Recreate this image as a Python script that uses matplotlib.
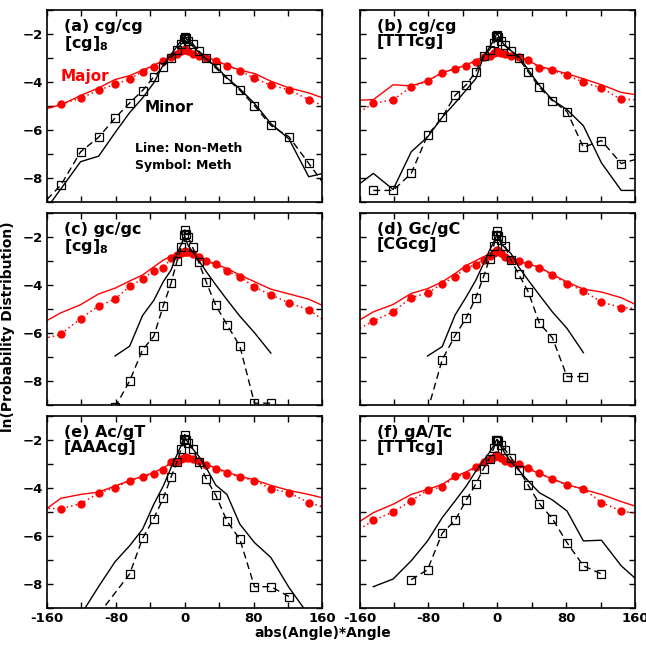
import numpy as np
import matplotlib
matplotlib.use('Agg')
import matplotlib.pyplot as plt
from matplotlib.ticker import MultipleLocator

plt.rcParams['font.family'] = ['DejaVu Sans']
plt.rcParams['font.weight'] = 'bold'
plt.rcParams['mathtext.default'] = 'bf'

nan = np.nan
# angle bins -13..13, x axis is abs(Angle)*Angle
angles = np.arange(-13, 14)

# panel (a) cg/cg [cg]8
a_maj_meth = [-5.17, -4.93, -4.68, -4.35, -4.10, -3.88, -3.57, -3.36, -3.14, -2.96, -2.83, -2.70, -2.65, -2.62,
              -2.65, -2.72, -2.83, -2.93, -3.00, -3.11, -3.35, -3.53, -3.85, -4.14, -4.33, -4.74, -5.12]
a_maj_non = [-5.20, -4.96, -4.57, -4.25, -3.90, -3.74, -3.51, -3.31, -3.10, -2.92, -2.78, -2.66, -2.60, -2.58,
             -2.60, -2.66, -2.76, -2.86, -2.96, -3.11, -3.31, -3.51, -3.65, -3.97, -4.25, -4.46, -4.78]
a_min_meth = [-9.24, -8.31, -6.92, -6.31, -5.51, -4.88, -4.36, -3.79, -3.36, -3.00, -2.68, -2.40, -2.20, -2.14,
              -2.18, -2.28, -2.40, -2.70, -3.02, -3.42, -3.86, -4.35, -4.99, -5.82, -6.29, -7.40, -8.62]
a_min_non = [-9.70, -8.47, -7.33, -7.10, -6.12, -5.28, -4.67, -4.04, -3.29, -2.86, -2.51, -2.26, -2.13, -2.07,
             -2.15, -2.30, -2.50, -2.75, -3.05, -3.35, -3.83, -4.29, -4.90, -5.74, -6.38, -7.96, -7.75]

# panel (b) cg/cg [TTTcg]
b_maj_meth = [-5.46, -4.90, -4.74, -4.22, -3.97, -3.62, -3.45, -3.32, -3.15, -2.97, -2.90, -2.80, -2.74, -2.72,
              -2.74, -2.78, -2.84, -2.90, -2.97, -3.09, -3.40, -3.52, -3.73, -4.01, -4.26, -4.73, -4.75]
b_maj_non = [-4.78, -4.74, -4.12, -4.17, -3.95, -3.62, -3.45, -3.30, -3.10, -2.95, -2.85, -2.76, -2.70, -2.68,
             -2.70, -2.75, -2.83, -2.90, -2.94, -3.12, -3.35, -3.49, -3.66, -3.87, -4.12, -4.44, -4.58]
b_min_meth = [nan, -8.53, -8.53, -7.82, -6.23, -5.48, -4.56, -4.12, -3.58, -2.91, -2.66, -2.39, -2.10, -2.05,
              -2.12, -2.30, -2.46, -2.70, -3.02, -3.59, -4.22, -4.79, -5.24, -6.73, -6.45, -7.41, -7.15]
b_min_non = [-8.50, -7.82, -8.49, -6.92, -6.30, -5.48, -4.88, -4.33, -3.87, -2.95, -2.55, -2.25, -2.02, -1.97,
             -2.05, -2.25, -2.50, -2.70, -2.94, -3.50, -4.15, -4.75, -5.16, -5.83, -7.38, -8.53, -8.53]

# panel (c) gc/gc [cg]8
c_maj_meth = [-6.28, -6.06, -5.40, -4.87, -4.59, -4.05, -3.75, -3.40, -3.27, -2.89, -2.76, -2.66, -2.60, -2.59,
              -2.60, -2.64, -2.72, -2.83, -2.99, -3.13, -3.42, -3.65, -4.09, -4.41, -4.74, -5.03, -5.67]
c_maj_non = [-5.66, -5.16, -4.82, -4.37, -4.13, -3.83, -3.58, -3.24, -2.96, -2.80, -2.68, -2.60, -2.55, -2.54,
             -2.56, -2.62, -2.72, -2.85, -2.99, -3.13, -3.31, -3.58, -3.86, -4.17, -4.37, -4.59, -5.00]
c_min_meth = [nan, nan, nan, nan, -9.10, -8.00, -6.70, -6.14, -4.87, -3.93, -3.00, -2.41, -1.93, -1.70,
              -1.85, -2.00, -2.41, -3.03, -3.88, -4.85, -5.65, -6.55, -8.93, -8.93, nan, nan, nan]
c_min_non = [nan, nan, nan, nan, -6.96, -6.55, -5.27, -4.64, -3.86, -3.38, -2.69, -2.30, -2.05, -1.95,
             -2.10, -2.35, -2.60, -2.96, -3.44, -3.99, -4.61, -5.30, -5.99, -6.84, nan, nan, nan]

# panel (d) Gc/gC [CGcg]
d_maj_meth = [-5.99, -5.50, -5.12, -4.52, -4.34, -3.94, -3.66, -3.27, -3.15, -2.94, -2.80, -2.65, -2.57, -2.55,
              -2.58, -2.68, -2.82, -2.97, -3.00, -3.12, -3.27, -3.59, -3.94, -4.24, -4.71, -4.94, -5.00]
d_maj_non = [-5.65, -5.12, -4.81, -4.35, -4.15, -3.87, -3.52, -3.18, -2.98, -2.82, -2.70, -2.60, -2.55, -2.53,
             -2.56, -2.63, -2.75, -2.90, -3.00, -3.12, -3.25, -3.56, -3.87, -4.17, -4.29, -4.53, -4.95]
d_min_meth = [nan, nan, nan, nan, -9.25, -7.12, -6.11, -5.37, -4.52, -3.66, -2.90, -2.35, -1.93, -1.75,
              -1.95, -2.10, -2.37, -2.97, -3.55, -4.29, -5.60, -6.20, -7.82, -7.82, nan, nan, nan]
d_min_non = [nan, nan, nan, nan, -6.96, -6.57, -5.25, -4.49, -3.80, -3.11, -2.55, -2.20, -1.95, -1.86,
             -2.00, -2.25, -2.45, -2.69, -3.25, -3.80, -4.42, -5.12, -5.81, -6.82, nan, nan, nan]

# panel (e) Ac/gT [AAAcg]
e_maj_meth = [-4.84, -4.85, -4.65, -4.20, -3.98, -3.68, -3.52, -3.40, -3.22, -2.91, -2.90, -2.80, -2.72, -2.68,
              -2.70, -2.75, -2.80, -2.87, -3.04, -3.18, -3.36, -3.54, -3.68, -4.02, -4.19, -4.60, -4.88]
e_maj_non = [-5.08, -4.42, -4.26, -4.16, -3.91, -3.68, -3.50, -3.35, -3.15, -2.95, -2.85, -2.75, -2.70, -2.68,
             -2.70, -2.74, -2.82, -2.90, -3.02, -3.15, -3.33, -3.50, -3.65, -3.88, -4.09, -4.26, -4.48]
e_min_meth = [nan, nan, nan, -9.26, nan, -7.58, -6.09, -5.27, -4.42, -3.54, -2.90, -2.35, -1.94, -1.76,
              -1.97, -2.10, -2.35, -2.90, -3.61, -4.29, -5.37, -6.13, -8.11, -8.11, -8.52, nan, nan]
e_min_non = [nan, nan, -9.30, -8.10, -7.07, -6.40, -5.71, -4.67, -3.91, -3.15, -2.60, -2.20, -1.90, -1.83,
             -1.95, -2.10, -2.35, -2.65, -3.15, -3.87, -4.26, -5.50, -6.27, -6.89, -8.14, -9.30, nan]

# panel (f) gA/Tc [TTTcg]
f_maj_meth = [-5.92, -5.34, -4.99, -4.52, -4.09, -3.94, -3.51, -3.43, -3.12, -2.90, -2.80, -2.70, -2.63, -2.60,
              -2.64, -2.75, -2.88, -2.94, -3.01, -3.15, -3.36, -3.63, -3.87, -4.02, -4.60, -4.95, -5.10]
f_maj_non = [-5.60, -5.02, -4.67, -4.26, -4.05, -3.84, -3.50, -3.32, -3.10, -2.88, -2.75, -2.65, -2.58, -2.56,
             -2.60, -2.68, -2.80, -2.92, -3.05, -3.20, -3.38, -3.62, -3.84, -4.05, -4.26, -4.56, -4.85]
f_min_meth = [nan, nan, nan, -7.82, -7.40, -5.88, -5.34, -4.49, -3.83, -3.18, -2.76, -2.32, -2.00, -1.97,
              -2.05, -2.20, -2.39, -2.73, -3.22, -3.88, -4.65, -5.27, -6.27, -7.24, -7.58, nan, nan]
f_min_non = [nan, -8.11, -7.79, -7.03, -6.20, -5.23, -4.53, -3.91, -3.29, -2.85, -2.50, -2.20, -2.00, -1.97,
             -2.05, -2.25, -2.55, -2.90, -3.25, -3.70, -4.19, -4.49, -4.95, -6.20, -6.17, -7.24, -8.04]

titles = ['(a) cg/cg', '(b) cg/cg', '(c) gc/gc', '(d) Gc/gC', '(e) Ac/gT', '(f) gA/Tc']
contexts = [r'[cg]$_{8}$', '[TTTcg]', r'[cg]$_{8}$', '[CGcg]', '[AAAcg]', '[TTTcg]']
panels = [(a_maj_meth, a_maj_non, a_min_meth, a_min_non),
          (b_maj_meth, b_maj_non, b_min_meth, b_min_non),
          (c_maj_meth, c_maj_non, c_min_meth, c_min_non),
          (d_maj_meth, d_maj_non, d_min_meth, d_min_non),
          (e_maj_meth, e_maj_non, e_min_meth, e_min_non),
          (f_maj_meth, f_maj_non, f_min_meth, f_min_non)]

x = np.abs(angles) * angles

def series(vals):
    v = np.array(vals, dtype=float)
    ok = np.isfinite(v)
    return x[ok], v[ok]

fig, axes = plt.subplots(3, 2, figsize=(6.46, 6.5), dpi=100)
plt.subplots_adjust(left=0.0728, right=0.983, top=0.9846, bottom=0.0646, wspace=0.1345, hspace=0.06)

for i, ax in enumerate(axes.flat):
    maj_meth, maj_non, min_meth, min_non = panels[i]
    xx, yy = series(maj_non)
    ax.plot(xx, yy, color='red', lw=1.0)
    xx, yy = series(maj_meth)
    ax.plot(xx, yy, color='red', lw=1.1, ls=(0, (1, 2)), marker='o', ms=5, mec='red', mfc='red')
    xx, yy = series(min_non)
    ax.plot(xx, yy, color='black', lw=1.0)
    xx, yy = series(min_meth)
    ax.plot(xx, yy, color='black', lw=1.0, ls=(0, (5, 3)), marker='s', ms=6, mfc='none', mec='black', mew=0.9)

    ax.set_xlim(-160, 160)
    ax.set_ylim(-9, -1)
    ax.xaxis.set_major_locator(MultipleLocator(80))
    ax.xaxis.set_minor_locator(MultipleLocator(40))
    ax.yaxis.set_major_locator(MultipleLocator(2))
    ax.yaxis.set_minor_locator(MultipleLocator(1))
    ax.set_yticks([-8, -6, -4, -2])
    ax.tick_params(which='both', direction='in', top=True, right=True, length=4, width=1,
                   labelsize=9.5, pad=3)
    for s in ax.spines.values():
        s.set_linewidth(1.2)
    if i % 2 == 1:
        ax.tick_params(labelleft=False)
    if i < 4:
        ax.tick_params(labelbottom=False)
    else:
        ax.set_xticks([-160, -80, 0, 80, 160])
        ax.set_xticklabels(['-160', '-80', '0', '80', '160'], fontweight='bold')
    for lab in ax.get_yticklabels():
        lab.set_fontweight('bold')

    ax.text(0.062, 0.955, titles[i], transform=ax.transAxes, fontsize=11.5, fontweight='bold', va='top')
    ax.text(0.062, 0.875, contexts[i], transform=ax.transAxes, fontsize=11.5, fontweight='bold', va='top')

ax = axes[0, 0]
ax.text(0.05, 0.651, 'Major', transform=ax.transAxes, color='red', fontsize=11, fontweight='bold', va='center')
ax.text(0.356, 0.491, 'Minor', transform=ax.transAxes, color='black', fontsize=11, fontweight='bold', va='center')
ax.text(0.32, 0.276, 'Line: Non-Meth', transform=ax.transAxes, fontsize=9, fontweight='bold', va='center')
ax.text(0.32, 0.189, 'Symbol: Meth', transform=ax.transAxes, fontsize=9, fontweight='bold', va='center')

fig.text(0.013, 0.498, 'ln(Probability Distribution)', rotation=90, fontsize=10, fontweight='bold',
         ha='center', va='center')
fig.text(0.5, 0.026, 'abs(Angle)*Angle', fontsize=10, fontweight='bold', ha='center', va='center')

fig.savefig('out.png', dpi=100)
